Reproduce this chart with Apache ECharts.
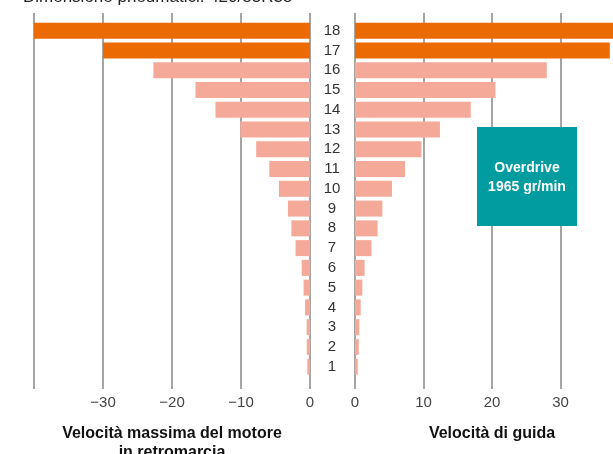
<!DOCTYPE html>
<html>
<head>
<meta charset="utf-8">
<script src="https://cdn.jsdelivr.net/npm/echarts@6/dist/echarts.min.js"></script>
<style>
  html, body { margin: 0; padding: 0; background: #fff; }
  #chart { width: 613px; height: 454px; }
</style>
</head>
<body>
<div id="chart"></div>
<script>
// marce 1..18
var gears = ["1", "2", "3", "4", "5", "6", "7", "8", "9", "10", "11", "12", "13", "14", "15", "16", "17", "18"];
// velocità in retromarcia (km/h, negativa)
var reverseSpeed = [-0.39, -0.47, -0.49, -0.72, -0.93, -1.2, -2.1, -2.7, -3.2, -4.5, -5.9, -7.8, -10.1, -13.7, -16.6, -22.7, -30.0, -40];
// velocità di guida (km/h)
var forwardSpeed = [0.4, 0.55, 0.63, 0.83, 1.07, 1.4, 2.4, 3.3, 4.0, 5.4, 7.3, 9.7, 12.4, 16.9, 20.5, 28.0, 37.2, 40];

var ORANGE = "#eb6a04";
var PINK = "#f5a998";
var LINE = "#8a8683";
var font = "Liberation Sans, Arial, sans-serif";

function barColor(p) {
  return p.dataIndex >= 16 ? ORANGE : PINK;
}
function minus(v) {
  if (v === -40 || v === 40) return "";
  return String(v).replace("-", "\u2212");
}

var chartDom = document.getElementById("chart");
var myChart = echarts.init(chartDom);
var option = {
  animation: false,
  title: {
    text: "Dimensione pneumatici: 420/85R38",
    left: 23,
    top: -11,
    padding: 0,
    textStyle: { fontFamily: font, fontSize: 17, fontWeight: "normal", color: "#222" },
  },
  grid: [
    { left: 34, right: 303, top: 20.8, bottom: 77.4, outerBoundsMode: "none" },
    { left: 355, right: -16, top: 20.8, bottom: 77.4, outerBoundsMode: "none" },
    { left: 34, right: 303, top: 13, bottom: 65, outerBoundsMode: "none" },
    { left: 355, right: -16, top: 13, bottom: 65, outerBoundsMode: "none" },
  ],
  xAxis: [
    { gridIndex: 0, type: "value", min: -40, max: 0, show: false },
    { gridIndex: 1, type: "value", min: 0, max: 40, show: false },
    {
      gridIndex: 2, type: "value", min: -40, max: 0, interval: 10,
      axisLine: { show: false }, axisTick: { show: false },
      splitLine: { show: true, lineStyle: { color: LINE, width: 1.5 } },
      axisLabel: { formatter: minus, margin: 6, fontFamily: font, fontSize: 15, color: "#444" },
      name: "Velocità massima del motore\nin retromarcia",
      nameLocation: "middle", nameGap: 35,
      nameTextStyle: { fontFamily: font, fontSize: 16, fontWeight: "bold", color: "#111", lineHeight: 19 },
    },
    {
      gridIndex: 3, type: "value", min: 0, max: 40, interval: 10,
      axisLine: { show: false }, axisTick: { show: false },
      splitLine: { show: true, lineStyle: { color: LINE, width: 1.5 } },
      axisLabel: { formatter: minus, margin: 6, fontFamily: font, fontSize: 15, color: "#444" },
      name: "Velocità di guida",
      nameLocation: "middle", nameGap: 35,
      nameTextStyle: { fontFamily: font, fontSize: 16, fontWeight: "bold", color: "#111", lineHeight: 19 },
    },
  ],
  yAxis: [
    { gridIndex: 0, type: "category", data: gears, show: false },
    {
      gridIndex: 1, type: "category", data: gears,
      axisLine: { show: false }, axisTick: { show: false }, splitLine: { show: false },
      axisLabel: { align: "center", margin: 23, fontFamily: font, fontSize: 15, color: "#333" },
    },
    { gridIndex: 2, type: "category", data: gears, show: false },
    { gridIndex: 3, type: "category", data: gears, show: false },
  ],
  series: [
    {
      type: "bar", xAxisIndex: 0, yAxisIndex: 0, data: reverseSpeed,
      barWidth: 16, itemStyle: { color: barColor }, z: 3,
    },
    {
      type: "bar", xAxisIndex: 1, yAxisIndex: 1, data: forwardSpeed,
      barWidth: 16, itemStyle: { color: barColor }, z: 3,
    },
  ],
  graphic: [
    {
      type: "rect", x: 477, y: 127, z: 10,
      shape: { width: 100, height: 99 },
      style: { fill: "#009ca0" },
    },
    {
      type: "text", x: 527, y: 178, z: 11,
      style: {
        text: "Overdrive\n1965 gr/min",
        fill: "#fff",
        font: "bold 14px " + font,
        lineHeight: 19,
        align: "center",
        verticalAlign: "middle",
      },
    },
  ],
};
myChart.setOption(option);
</script>
</body>
</html>
